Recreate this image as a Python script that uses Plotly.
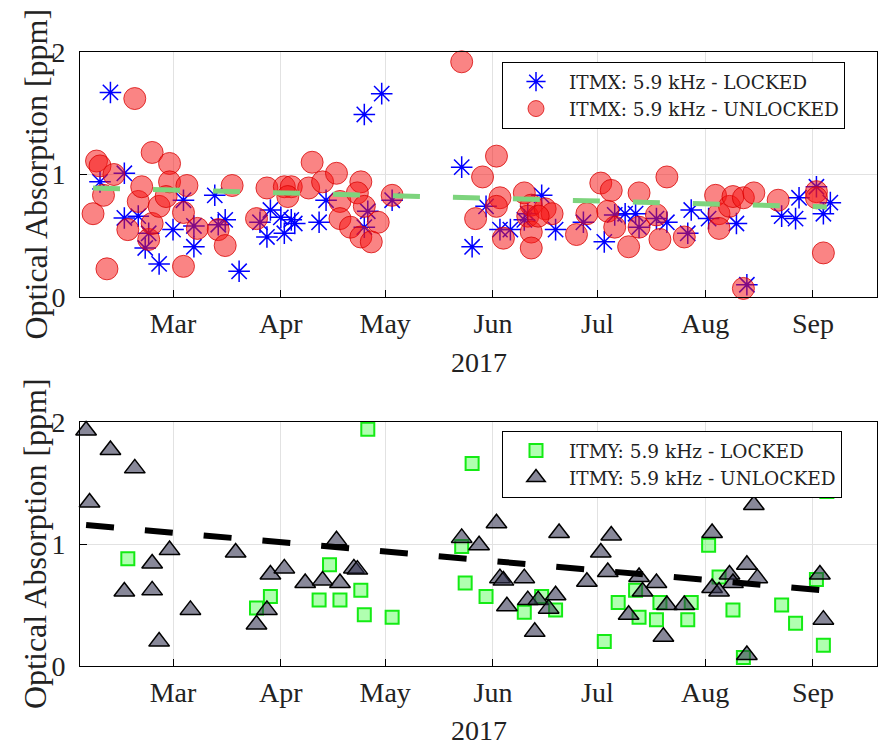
import plotly.graph_objects as go

# ---------------- data ----------------
month_ticks = ["2017-03-01", "2017-04-01", "2017-05-01", "2017-06-01",
               "2017-07-01", "2017-08-01", "2017-09-01"]
month_labels = ["Mar", "Apr", "May", "Jun", "Jul", "Aug", "Sep"]
x_range = ["2017-02-02 06:00", "2017-09-19 10:00"]

# ITMX, 5.9 kHz, LOCKED (date, absorption ppm)
itmx_locked = [
    ("2017-02-11", 1.67), ("2017-02-08", 0.94), ("2017-02-15", 1.01), ("2017-02-15", 0.645),
    ("2017-02-19", 0.66), ("2017-02-21", 0.40), ("2017-02-22", 0.52), ("2017-02-25", 0.27),
    ("2017-03-01", 0.55), ("2017-03-04", 0.79), ("2017-03-07", 0.41), ("2017-03-07", 0.58),
    ("2017-03-13", 0.83), ("2017-03-14", 0.59), ("2017-03-16", 0.63), ("2017-03-20", 0.21),
    ("2017-03-26", 0.61), ("2017-03-28", 0.49), ("2017-03-29", 0.71), ("2017-04-01", 0.65),
    ("2017-04-02", 0.52), ("2017-04-04", 0.63), ("2017-04-05", 0.60), ("2017-04-12", 0.61),
    ("2017-04-14", 0.79), ("2017-04-25", 1.49), ("2017-04-30", 1.66), ("2017-04-26", 0.70),
    ("2017-04-25", 0.57), ("2017-05-03", 0.79), ("2017-05-23", 1.06), ("2017-05-26", 0.41),
    ("2017-05-30", 0.74), ("2017-06-03", 0.55), ("2017-06-06", 0.55), ("2017-06-10", 0.63),
    ("2017-06-11", 0.68), ("2017-06-15", 0.83), ("2017-06-19", 0.55), ("2017-06-27", 0.61),
    ("2017-07-03", 0.45), ("2017-07-06", 0.67), ("2017-07-09", 0.68), ("2017-07-12", 0.68),
    ("2017-07-13", 0.57), ("2017-07-18", 0.64), ("2017-07-21", 0.61), ("2017-07-27", 0.52),
    ("2017-07-28", 0.71), ("2017-08-02", 0.64), ("2017-08-10", 0.60), ("2017-08-13", 0.10),
    ("2017-08-23", 0.66), ("2017-08-27", 0.64), ("2017-08-28", 0.81), ("2017-09-02", 0.90),
    ("2017-09-04", 0.68), ("2017-09-06", 0.77),
]

# ITMX, 5.9 kHz, UNLOCKED
itmx_unlocked = [
    ("2017-02-07", 1.11), ("2017-02-08", 1.07), ("2017-02-06", 0.68), ("2017-02-09", 0.83),
    ("2017-02-10", 0.23), ("2017-02-12", 1.00), ("2017-02-18", 1.62), ("2017-02-16", 0.55),
    ("2017-02-19", 0.78), ("2017-02-20", 0.90), ("2017-02-22", 0.47), ("2017-02-23", 0.60),
    ("2017-02-23", 1.18), ("2017-02-28", 1.09), ("2017-02-28", 0.94), ("2017-02-25", 0.74),
    ("2017-02-27", 0.82), ("2017-03-04", 0.25), ("2017-03-05", 0.91), ("2017-03-04", 0.69),
    ("2017-03-08", 0.56), ("2017-03-14", 0.55), ("2017-03-16", 0.42), ("2017-03-18", 0.91),
    ("2017-03-25", 0.64), ("2017-03-28", 0.89), ("2017-04-02", 0.90), ("2017-04-04", 0.90),
    ("2017-04-03", 0.82), ("2017-04-09", 0.89), ("2017-04-10", 1.10), ("2017-04-13", 0.94),
    ("2017-04-17", 1.01), ("2017-04-18", 0.78), ("2017-04-18", 0.64), ("2017-04-21", 0.57),
    ("2017-04-24", 0.94), ("2017-04-23", 0.85), ("2017-04-25", 0.74), ("2017-04-24", 0.49),
    ("2017-04-27", 0.45), ("2017-04-29", 0.61), ("2017-05-03", 0.83), ("2017-05-23", 1.92),
    ("2017-05-29", 0.98), ("2017-06-02", 1.15), ("2017-05-27", 0.64), ("2017-06-03", 0.81),
    ("2017-06-02", 0.74), ("2017-06-04", 0.48), ("2017-06-10", 0.85), ("2017-06-12", 0.75),
    ("2017-06-11", 0.66), ("2017-06-12", 0.53), ("2017-06-12", 0.40), ("2017-06-16", 0.72),
    ("2017-06-18", 0.68), ("2017-06-14", 0.66), ("2017-06-25", 0.51), ("2017-06-28", 0.68),
    ("2017-07-02", 0.93), ("2017-07-05", 0.87), ("2017-07-04", 0.70), ("2017-07-06", 0.57),
    ("2017-07-10", 0.41), ("2017-07-13", 0.85), ("2017-07-13", 0.57), ("2017-07-18", 0.67),
    ("2017-07-21", 0.98), ("2017-07-19", 0.47), ("2017-07-26", 0.49), ("2017-08-04", 0.83),
    ("2017-08-05", 0.68), ("2017-08-05", 0.56), ("2017-08-08", 0.74), ("2017-08-09", 0.82),
    ("2017-08-12", 0.81), ("2017-08-15", 0.85), ("2017-08-12", 0.07), ("2017-08-22", 0.79),
    ("2017-09-02", 0.86), ("2017-09-02", 0.81), ("2017-09-04", 0.36),
]

# ITMX trend (fit) end points
itmx_trend = [("2017-02-06", 0.89), ("2017-09-05", 0.735)]

# ITMY, 5.9 kHz, LOCKED
itmy_locked = [
    ("2017-02-16", 0.88), ("2017-03-25", 0.475), ("2017-03-29", 0.57), ("2017-04-12", 0.54),
    ("2017-04-15", 0.83), ("2017-04-18", 0.54), ("2017-04-24", 0.62), ("2017-04-25", 0.42),
    ("2017-04-26", 1.94), ("2017-05-03", 0.40), ("2017-05-23", 0.98), ("2017-05-24", 0.68),
    ("2017-05-26", 1.66), ("2017-05-30", 0.57), ("2017-06-10", 0.44), ("2017-06-15", 0.57),
    ("2017-06-19", 0.46), ("2017-07-03", 0.20), ("2017-07-07", 0.52), ("2017-07-12", 0.62),
    ("2017-07-13", 0.40), ("2017-07-18", 0.38), ("2017-07-19", 0.52), ("2017-07-27", 0.38),
    ("2017-07-28", 0.52), ("2017-08-02", 0.99), ("2017-08-05", 0.73), ("2017-08-09", 0.46),
    ("2017-08-12", 0.07), ("2017-08-23", 0.50), ("2017-08-27", 0.35), ("2017-09-02", 0.71),
    ("2017-09-04", 0.17), ("2017-09-05", 1.43),
]

# ITMY, 5.9 kHz, UNLOCKED
itmy_unlocked = [
    ("2017-02-04", 1.93), ("2017-02-11", 1.77), ("2017-02-18", 1.62), ("2017-02-05", 1.34),
    ("2017-02-28", 0.95), ("2017-02-23", 0.84), ("2017-02-15", 0.61), ("2017-02-23", 0.62),
    ("2017-02-25", 0.20), ("2017-03-06", 0.46), ("2017-03-19", 0.93), ("2017-03-29", 0.75),
    ("2017-04-02", 0.80), ("2017-03-25", 0.34), ("2017-03-28", 0.46), ("2017-04-08", 0.68),
    ("2017-04-13", 0.70), ("2017-04-17", 1.03), ("2017-04-18", 0.68), ("2017-04-22", 0.80),
    ("2017-04-23", 0.79), ("2017-05-23", 1.05), ("2017-05-28", 0.99), ("2017-06-02", 1.17),
    ("2017-06-03", 0.72), ("2017-06-04", 0.70), ("2017-06-05", 0.49), ("2017-06-10", 0.72),
    ("2017-06-11", 0.54), ("2017-06-14", 0.54), ("2017-06-13", 0.28), ("2017-06-17", 0.47),
    ("2017-06-19", 0.58), ("2017-06-20", 1.09), ("2017-06-28", 0.69), ("2017-07-02", 0.93),
    ("2017-07-05", 1.07), ("2017-07-04", 0.77), ("2017-07-10", 0.42), ("2017-07-13", 0.73),
    ("2017-07-14", 0.61), ("2017-07-18", 0.68), ("2017-07-20", 0.24), ("2017-07-21", 0.50),
    ("2017-07-26", 0.50), ("2017-08-03", 1.09), ("2017-08-03", 0.64), ("2017-08-05", 0.61),
    ("2017-08-08", 0.75), ("2017-08-09", 0.68), ("2017-08-13", 0.83), ("2017-08-15", 1.32),
    ("2017-08-13", 0.09), ("2017-08-16", 0.72), ("2017-09-03", 0.75), ("2017-09-04", 0.38),
]

# ITMY trend (fit) end points
itmy_trend = [("2017-02-04", 1.156), ("2017-09-04", 0.62)]

y_title = "Optical Absorption [ppm]"
x_title = "2017"


def xs(pairs):
    return [p[0] for p in pairs]


def ys(pairs):
    return [p[1] for p in pairs]


FONT = "Liberation Serif"
LEGEND_FONT = "DejaVu Serif"
TXT = "#222"

fig = go.Figure()

# ---- top panel ----
fig.add_trace(go.Scatter(
    x=xs(itmx_locked), y=ys(itmx_locked), mode="markers", name="ITMX: 5.9 kHz - LOCKED",
    marker=dict(symbol="asterisk-open", size=18, color="blue", line=dict(color="blue", width=1.5)),
    xaxis="x", yaxis="y", legend="legend", cliponaxis=False))
fig.add_trace(go.Scatter(
    x=xs(itmx_unlocked), y=ys(itmx_unlocked), mode="markers", name="ITMX: 5.9 kHz - UNLOCKED",
    marker=dict(symbol="circle", size=22, color="rgba(245,20,20,0.52)",
                line=dict(color="rgba(215,0,0,0.75)", width=1)),
    xaxis="x", yaxis="y", legend="legend", cliponaxis=False))
fig.add_trace(go.Scatter(
    x=xs(itmx_trend), y=ys(itmx_trend), mode="lines", showlegend=False,
    line=dict(color="rgb(125,212,125)", width=5, dash="27px,33px"),
    xaxis="x", yaxis="y"))

# ---- bottom panel ----
fig.add_trace(go.Scatter(
    x=xs(itmy_locked), y=ys(itmy_locked), mode="markers", name="ITMY: 5.9 kHz - LOCKED",
    marker=dict(symbol="square", size=13, color="rgba(80,255,80,0.45)",
                line=dict(color="rgb(20,235,20)", width=2)),
    xaxis="x2", yaxis="y2", legend="legend2", cliponaxis=False))
fig.add_trace(go.Scatter(
    x=xs(itmy_unlocked), y=ys(itmy_unlocked), mode="markers", name="ITMY: 5.9 kHz - UNLOCKED",
    marker=dict(symbol="triangle-up", size=18, color="rgba(50,50,80,0.58)",
                line=dict(color="black", width=1.5)),
    xaxis="x2", yaxis="y2", legend="legend2", cliponaxis=False))
fig.add_trace(go.Scatter(
    x=xs(itmy_trend), y=ys(itmy_trend), mode="lines", showlegend=False,
    line=dict(color="black", width=6, dash="28px,31px"),
    xaxis="x2", yaxis="y2"))

H = 751.0
top_dom = [1 - 297 / H, 1 - 52 / H]
bot_dom = [1 - 666 / H, 1 - 422 / H]

xcommon = dict(
    range=x_range, tickvals=month_ticks, ticktext=month_labels,
    ticks="inside", ticklen=7, tickcolor="black", tickwidth=1,
    showline=True, mirror=True, linecolor="black", linewidth=1,
    showgrid=True, gridcolor="rgb(226,226,226)", gridwidth=1, zeroline=False,
    tickfont=dict(family=FONT, size=28, color=TXT), automargin=False,
    ticklabelstandoff=1,
)
ycommon = dict(
    range=[0, 2], tickvals=[0, 1, 2], ticktext=["0", "1", "2"],
    ticks="inside", ticklen=7, tickcolor="black", tickwidth=1,
    showline=True, mirror=True, linecolor="black", linewidth=1,
    showgrid=True, gridcolor="rgb(226,226,226)", gridwidth=1, zeroline=False,
    tickfont=dict(family=FONT, size=28, color=TXT), automargin=False,
    ticklabelstandoff=8,
)

legend_common = dict(
    xanchor="left", yanchor="top", bgcolor="white", bordercolor="black", borderwidth=1,
    font=dict(family=LEGEND_FONT, size=18.5, color=TXT), itemwidth=56, traceorder="normal",
)

fig.update_layout(
    width=878, height=751,
    margin=dict(l=80, r=1, t=0, b=0),
    paper_bgcolor="white", plot_bgcolor="white",
    font=dict(family=FONT, size=22, color=TXT),
    xaxis=dict(domain=[0, 1], anchor="y", **xcommon),
    yaxis=dict(domain=top_dom, anchor="x", **ycommon),
    xaxis2=dict(domain=[0, 1], anchor="y2", **xcommon),
    yaxis2=dict(domain=bot_dom, anchor="x2", **ycommon),
    legend=dict(x=(502 - 80) / 797, y=1 - 62 / H, **legend_common),
    legend2=dict(x=(502 - 80) / 797, y=1 - 431 / H, **legend_common),
    annotations=[
        dict(text=y_title, textangle=-90, xref="paper", yref="paper",
             x=(35 - 80) / 797, y=sum(top_dom) / 2, xanchor="center", yanchor="middle",
             showarrow=False, font=dict(family=FONT, size=32, color=TXT)),
        dict(text=y_title, textangle=-90, xref="paper", yref="paper",
             x=(35 - 80) / 797, y=sum(bot_dom) / 2, xanchor="center", yanchor="middle",
             showarrow=False, font=dict(family=FONT, size=32, color=TXT)),
        dict(text=x_title, xref="paper", yref="paper", x=0.5, y=1 - 363 / H,
             xanchor="center", yanchor="middle", showarrow=False,
             font=dict(family=FONT, size=28, color=TXT)),
        dict(text=x_title, xref="paper", yref="paper", x=0.5, y=1 - 730 / H,
             xanchor="center", yanchor="middle", showarrow=False,
             font=dict(family=FONT, size=28, color=TXT)),
    ],
)

fig.write_html("out.html")
